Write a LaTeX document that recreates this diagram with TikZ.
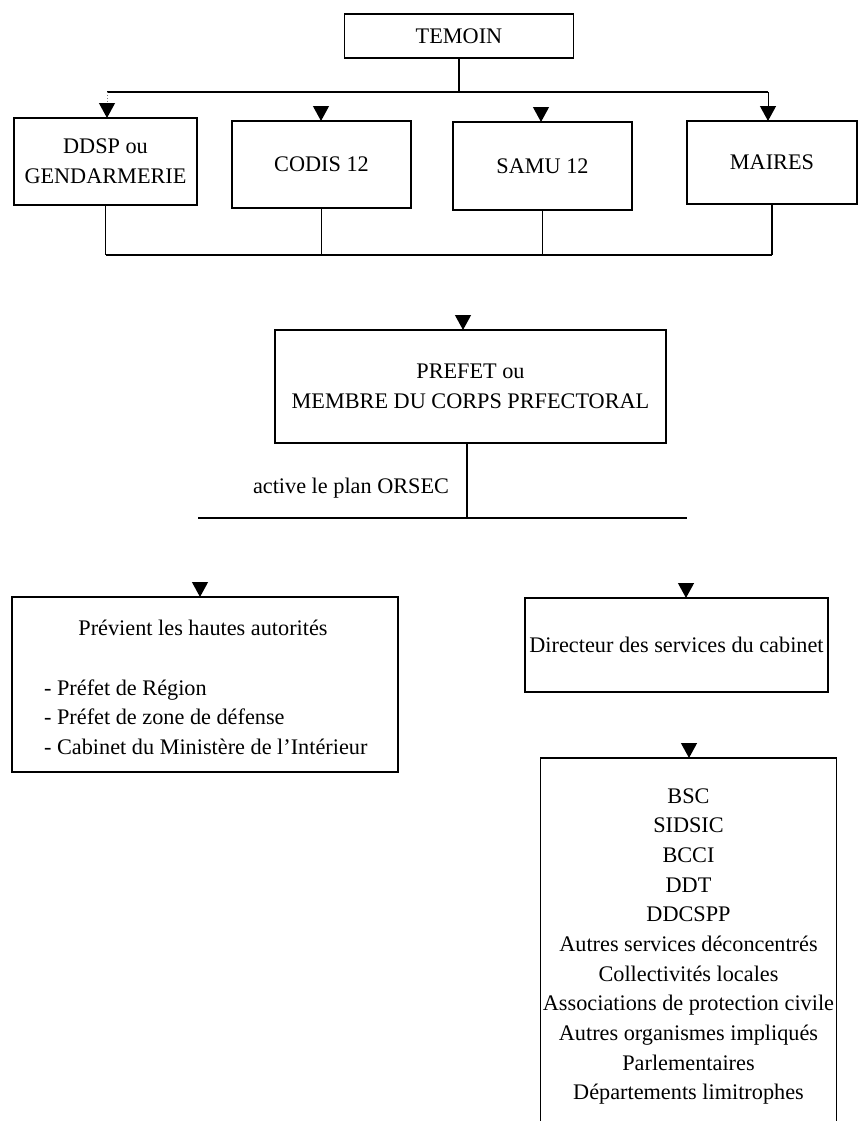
\documentclass[tikz,border=0pt]{standalone}
\usepackage{fontspec}
\setmainfont{Liberation Serif}
\usetikzlibrary{arrows.meta,calc}
\tikzset{
  boite/.style={draw,line width=1.2pt,inner sep=2pt,align=center},
  trait/.style={line width=1.2pt},
  fleche/.style={-{Triangle[width=13.6pt,length=12.8pt]},line width=1.2pt},
}
\begin{document}
\begin{tikzpicture}[x=0.03cm,y=-0.03cm,font=\fontsize{19}{25.3}\selectfont]
\useasboundingbox (0,0) rectangle (858,1121);

\node[boite,minimum width=6.87cm,minimum height=1.32cm] (temoin) at (459,36) {TEMOIN};
\node[boite,minimum width=5.49cm,minimum height=2.61cm] (ddsp) at (105.5,161.5) {DDSP ou\\GENDARMERIE};
\node[boite,minimum width=5.37cm,minimum height=2.61cm] (codis) at (321.5,164.5) {CODIS 12};
\node[boite,minimum width=5.37cm,minimum height=2.64cm] (samu) at (542.5,166) {SAMU 12};
\node[boite,minimum width=5.10cm,minimum height=2.49cm] (maires) at (772,162.5) {MAIRES};

\coordinate (bus1w) at (107,92);
\coordinate (bus1e) at (768,92);
\draw[trait] (temoin.south) -- (temoin.south |- bus1w);
\draw[trait] (bus1w) -- (bus1e);
\draw[line width=0.5pt,gray,dotted] (bus1w) -- (107,103);
\draw[fleche] (107,103) -- (107,118);
\draw[fleche] (321,106) -- (321,121);
\draw[fleche] (541,107) -- (541,122);
\draw[line width=0.8pt] (bus1e) -- (768,106);
\draw[fleche] (768,106) -- (768,121);

\coordinate (bus2) at (459,255);
\draw[trait] (ddsp.south) -- (ddsp.south |- bus2);
\draw[trait] (codis.south) -- (codis.south |- bus2);
\draw[trait] (samu.south) -- (samu.south |- bus2);
\draw[trait] (maires.south) -- (maires.south |- bus2);
\draw[trait] (ddsp.south |- bus2) -- (maires.south |- bus2);

\node[boite,minimum width=11.73cm,minimum height=3.39cm] (prefet) at (470.5,386.5) {PREFET ou\\MEMBRE DU CORPS PRFECTORAL};
\coordinate (hautprefet) at (463,315);
\draw[fleche] (hautprefet) -- (463,330);

\coordinate (bus3) at (467,518);
\coordinate (bus3w) at (198,518);
\coordinate (bus3e) at (687,518);
\draw[trait] (prefet.south -| bus3) -- (bus3);
\draw[trait] (bus3w) -- (bus3e);
\node (orsec) at (351,488) {active le plan ORSEC};

\node[boite,minimum width=11.58cm,minimum height=5.25cm] (previent) at (205,684.5) {};
\node (titre) at (203,628) {Prévient les hautes autorités};
\node[anchor=west,align=left] (liste) at (40,717) {- Préfet de Région\\- Préfet de zone de défense\\- Cabinet du Ministère de l'Intérieur};
\coordinate (hautprevient) at (200,582);
\draw[fleche] (hautprevient) -- (200,597);

\node[boite,minimum width=9.09cm,minimum height=2.82cm] (directeur) at (676.5,645) {Directeur des services du cabinet};
\coordinate (hautdirecteur) at (686,583);
\draw[fleche] (hautdirecteur) -- (686,598);

\node[boite,minimum width=8.85cm,minimum height=11.31cm] (services) at (688.5,946.5) {BSC\\SIDSIC\\BCCI\\DDT\\DDCSPP\\Autres services déconcentrés\\Collectivités locales\\Associations de protection civile\\Autres organismes impliqués\\Parlementaires\\Départements limitrophes};
\coordinate (hautservices) at (689,743);
\draw[fleche] (hautservices) -- (689,758);

\end{tikzpicture}
\end{document}
